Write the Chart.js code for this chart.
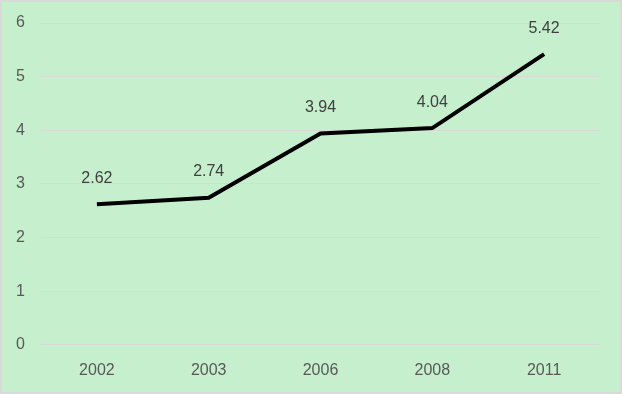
<!DOCTYPE html>
<html>
<head>
  <meta charset="utf-8">
  <script src="https://cdn.jsdelivr.net/npm/chart.js@4"></script>
  <style>
    html, body { margin: 0; padding: 0; background: #fff; }
    #wrap { width: 618px; height: 390px; border: 2px solid #D9D9D9; background: #C6EFCE; }
    canvas { display: block; }
  </style>
</head>
<body>
  <div id="wrap"><canvas id="chart" width="618" height="390"></canvas></div>
  <script>
    const years = ['2002', '2003', '2006', '2008', '2011'];
    const values = [2.62, 2.74, 3.94, 4.04, 5.42];
    const yTicks = [0, 1, 2, 3, 4, 5, 6];

    // draws the value above each point
    const valueLabels = {
      id: 'valueLabels',
      afterDatasetsDraw(chart) {
        const ctx = chart.ctx;
        const meta = chart.getDatasetMeta(0);
        ctx.save();
        ctx.font = '16px "Liberation Sans", sans-serif';
        ctx.fillStyle = '#404040';
        ctx.textAlign = 'center';
        ctx.textBaseline = 'middle';
        meta.data.forEach((pt, i) => {
          ctx.fillText(values[i].toFixed(2), pt.x, pt.y - 26);
        });
        ctx.restore();
      }
    };

    const ctx = document.getElementById('chart').getContext('2d');
    new Chart(ctx, {
      type: 'line',
      data: {
        labels: years,
        datasets: [{
          data: values,
          borderColor: '#000000',
          borderWidth: 4,
          pointRadius: 0,
          tension: 0,
          fill: false
        }]
      },
      options: {
        responsive: false,
        animation: false,
        layout: { padding: { top: 21, right: 20, left: 0, bottom: 4 } },
        plugins: { legend: { display: false }, tooltip: { enabled: false } },
        scales: {
          x: {
            offset: true,
            grid: { display: false },
            border: { display: false },
            ticks: { color: '#595959', font: { size: 16, family: '"Liberation Sans", sans-serif' }, padding: 8 }
          },
          y: {
            min: 0,
            max: 6,
            afterBuildTicks: axis => { axis.ticks = yTicks.map(v => ({ value: v })); },
            afterFit: axis => {
              axis.width = 39;
              axis.paddingTop = 0;
              axis.paddingBottom = 0;
            },
            grid: { color: '#D9D9D9', lineWidth: 1, drawTicks: false },
            border: { display: false },
            ticks: { color: '#595959', font: { size: 16, family: '"Liberation Sans", sans-serif' }, padding: 16 }
          }
        }
      },
      plugins: [valueLabels]
    });
  </script>
</body>
</html>
